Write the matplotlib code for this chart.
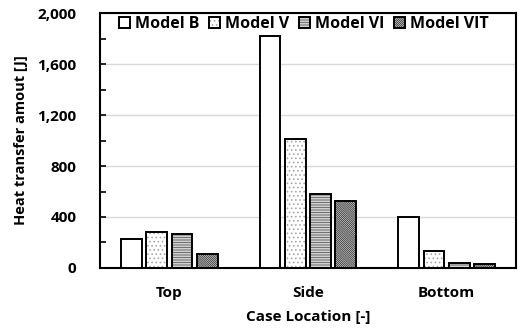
import numpy as np
import matplotlib
matplotlib.use("Agg")
import matplotlib.pyplot as plt
from matplotlib.ticker import MultipleLocator, FuncFormatter

# ==========================================
# Data
# ==========================================

locations = ["Top", "Side", "Bottom"]
models = ["Model B", "Model V", "Model VI", "Model VIT"]

model_b = [230, 1820, 400]
model_v = [280, 1015, 130]
model_vi = [270, 580, 40]
model_vit = [110, 525, 30]

hatches = ["", "....", "-" * 10, "\\" * 16]
hatch_colors = ["black", "#a8a8a8", "#6e6e6e", "#3c3c3c"]

# ==========================================
# Style
# ==========================================

plt.rcParams["font.family"] = ["Open Sans", "DejaVu Sans"]
plt.rcParams["font.weight"] = "bold"
plt.rcParams["hatch.linewidth"] = 0.7

fig = plt.figure(figsize=(5.18, 3.32), dpi=100)
ax = fig.add_axes([0.193, 0.193, 0.803, 0.767])

x = np.arange(len(locations))
width = 0.15
step = 0.182

series = [model_b, model_v, model_vi, model_vit]

for i, vals in enumerate(series):
    offset = (i - 1.5) * step
    bars = ax.bar(
        x + offset,
        vals,
        width,
        color="white",
        edgecolor="black",
        linewidth=1.4,
        hatch=hatches[i],
        label=models[i],
        zorder=3,
    )
    for b in bars:
        b._hatch_color = matplotlib.colors.to_rgba(hatch_colors[i])

# ==========================================
# Axes
# ==========================================

ax.set_xlim(-0.5, 2.5)
ax.set_ylim(0, 2000)

ax.yaxis.set_major_locator(MultipleLocator(400))
ax.yaxis.set_minor_locator(MultipleLocator(200))
ax.yaxis.set_major_formatter(FuncFormatter(lambda v, p: f"{int(v):,}"))

ax.grid(axis="y", color="#d9d9d9", linewidth=1.0, zorder=0)

ax.tick_params(axis="y", which="both", direction="in", length=4, width=1.2,
               pad=17, labelsize=11)
ax.tick_params(axis="x", length=0, pad=13, labelsize=11)

ax.set_xticks(x)
ax.set_xticklabels(locations, fontweight="bold")

for s in ax.spines.values():
    s.set_linewidth(1.5)

ax.set_xlabel("Case Location [-]", fontsize=11, fontweight="bold", labelpad=7)
ax.set_ylabel("Heat transfer amout [J]", fontsize=10.5, fontweight="bold", labelpad=7)

leg = ax.legend(
    loc="upper center",
    bbox_to_anchor=(0.49, 1.02),
    ncol=4,
    frameon=False,
    fontsize=11.5,
    handlelength=0.7,
    handleheight=0.7,
    handletextpad=0.3,
    columnspacing=0.6,
    borderaxespad=0.1,
)

plt.savefig("out.png", dpi=100)
